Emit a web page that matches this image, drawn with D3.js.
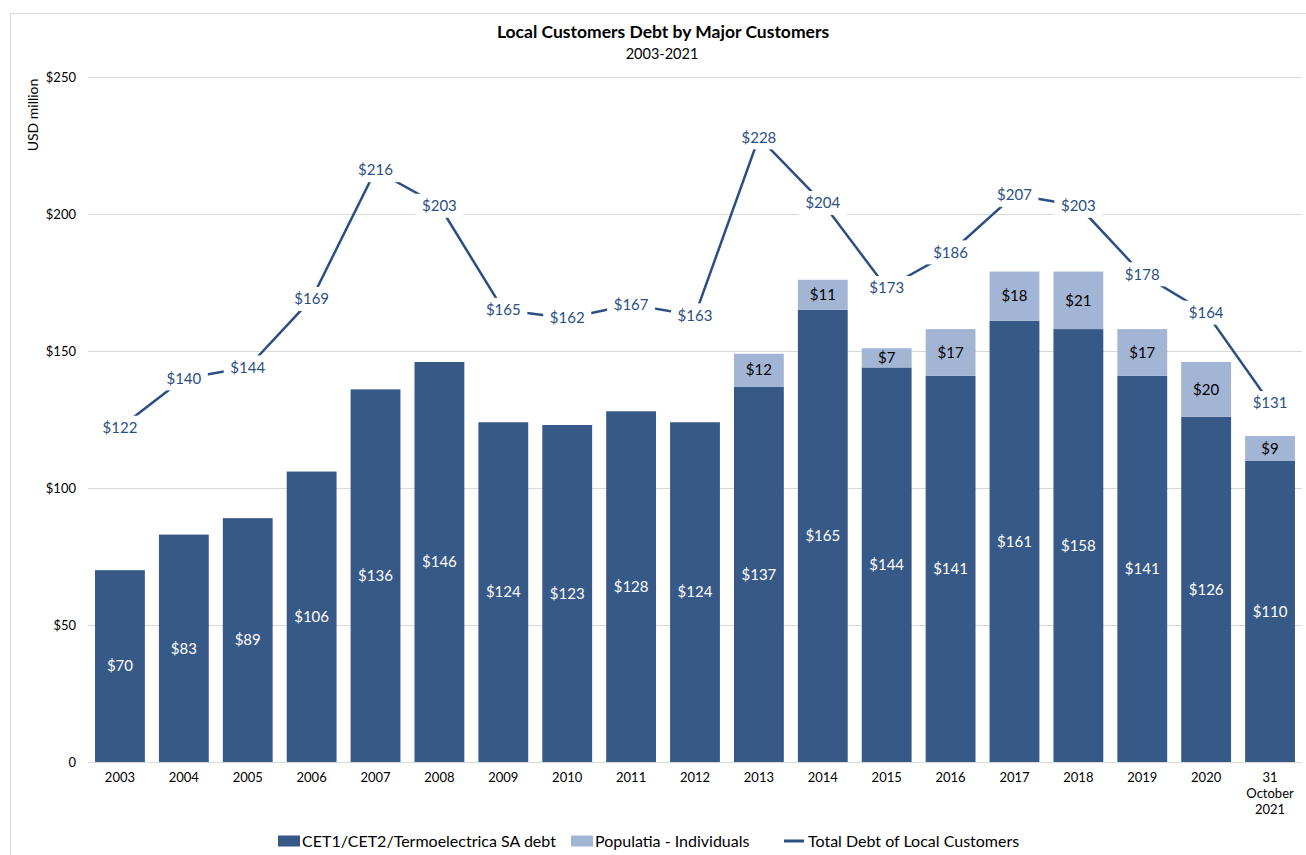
<!DOCTYPE html>
<html lang="en">
<head>
<meta charset="utf-8">
<title>Local Customers Debt by Major Customers</title>
<script src="https://d3js.org/d3.v7.min.js"></script>
<style>
    * { margin: 0; padding: 0; }
    body { background: white; width: 1306px; height: 855px; overflow: hidden; }
    svg { font-family: "Lato", "Open Sans", sans-serif; }
</style>
</head>
<body>
<svg id="chart" width="1306" height="855"></svg>
<script>
const categories = ["2003", "2004", "2005", "2006", "2007", "2008", "2009", "2010", "2011", "2012",
    "2013", "2014", "2015", "2016", "2017", "2018", "2019", "2020", "31\nOctober\n2021"];
const cetDebt = [70, 83, 89, 106, 136, 146, 124, 123, 128, 124, 137, 165, 144, 141, 161, 158, 141, 126, 110];
const populatia = [0, 0, 0, 0, 0, 0, 0, 0, 0, 0, 12, 11, 7, 17, 18, 21, 17, 20, 9];
const totalDebt = [122, 140, 144, 169, 216, 203, 165, 162, 167, 163, 228, 204, 173, 186, 207, 203, 178, 164, 131];
const yTicks = [0, 50, 100, 150, 200, 250];

const darkBlue = "#365987";
const lightBlue = "#a3b5d5";
const lineBlue = "#2b4f82";

const svg = d3.select("#chart");
const plotLeft = 88, plotRight = 1302, plotTop = 77, plotBottom = 762;

// outer frame
svg.append("rect")
    .attr("x", 10.5).attr("y", 13.5)
    .attr("width", 1300).attr("height", 850)
    .attr("fill", "none").attr("stroke", "#d9d9d9");

const x = d3.scaleBand().domain(categories).range([plotLeft, plotRight]).paddingInner(0.22).paddingOuter(0.11);
const y = d3.scaleLinear().domain([0, 250]).range([plotBottom, plotTop]);

// gridlines
svg.append("g").selectAll("line")
    .data(yTicks)
    .join("line")
    .attr("x1", plotLeft).attr("x2", plotRight)
    .attr("y1", d => y(d) + 0.5).attr("y2", d => y(d) + 0.5)
    .attr("stroke", "#d9d9d9").attr("stroke-width", 1);

// y axis labels
const yAxis = d3.axisLeft(y).tickValues(yTicks).tickSize(0).tickPadding(12)
    .tickFormat(d => d === 0 ? "0" : "$" + d);
const yg = svg.append("g").attr("transform", `translate(${plotLeft},0)`).call(yAxis);
yg.select(".domain").remove();
yg.selectAll("text").attr("font-size", 13).attr("fill", "#000").attr("font-family", "Lato, sans-serif");

svg.append("text")
    .attr("transform", "translate(38,115) rotate(-90)")
    .attr("text-anchor", "middle")
    .attr("font-size", 14)
    .text("USD million");

// bars
const stacked = categories.map((c, i) => ({ c, dark: cetDebt[i], light: populatia[i] }));

svg.append("g").selectAll("rect")
    .data(stacked)
    .join("rect")
    .attr("x", d => x(d.c))
    .attr("width", x.bandwidth())
    .attr("y", d => y(d.dark))
    .attr("height", d => y(0) - y(d.dark))
    .attr("fill", darkBlue);

svg.append("g").selectAll("rect")
    .data(stacked.filter(d => d.light > 0))
    .join("rect")
    .attr("x", d => x(d.c))
    .attr("width", x.bandwidth())
    .attr("y", d => y(d.dark + d.light))
    .attr("height", d => y(d.dark) - y(d.dark + d.light))
    .attr("fill", lightBlue);

// axis baseline
svg.append("line")
    .attr("x1", plotLeft).attr("x2", plotRight)
    .attr("y1", plotBottom + 0.5).attr("y2", plotBottom + 0.5)
    .attr("stroke", "#d9d9d9");

// bar labels
svg.append("g").selectAll("text")
    .data(stacked)
    .join("text")
    .attr("x", d => x(d.c) + x.bandwidth() / 2)
    .attr("y", d => y(d.dark / 2))
    .attr("dy", "0.35em")
    .attr("text-anchor", "middle")
    .attr("font-size", 15)
    .attr("fill", "white")
    .text(d => "$" + d.dark);

svg.append("g").selectAll("text")
    .data(stacked.filter(d => d.light > 0))
    .join("text")
    .attr("x", d => x(d.c) + x.bandwidth() / 2)
    .attr("y", d => y(d.dark + d.light / 2))
    .attr("dy", "0.35em")
    .attr("text-anchor", "middle")
    .attr("font-size", 15)
    .attr("fill", "#000")
    .text(d => "$" + d.light);

// x labels
const xl = svg.append("g").selectAll("text")
    .data(categories)
    .join("text")
    .attr("x", d => x(d) + x.bandwidth() / 2)
    .attr("y", 782)
    .attr("text-anchor", "middle")
    .attr("font-size", 13);
xl.each(function (d) {
    const lines = d.split("\n");
    const t = d3.select(this);
    lines.forEach((l, i) => {
        t.append("tspan").attr("x", t.attr("x")).attr("dy", i === 0 ? 0 : 16).text(l);
    });
});

// total line
const cx = i => x(categories[i]) + x.bandwidth() / 2;
const line = d3.line().x((d, i) => cx(i)).y(d => y(d));
svg.append("path")
    .datum(totalDebt)
    .attr("d", line)
    .attr("fill", "none")
    .attr("stroke", lineBlue)
    .attr("stroke-width", 2.5);

// total labels with white background
const tl = svg.append("g").selectAll("g")
    .data(totalDebt)
    .join("g")
    .attr("transform", (d, i) => `translate(${cx(i)},${y(d)})`);
tl.append("rect")
    .attr("x", -24).attr("y", -12)
    .attr("width", 48).attr("height", 24)
    .attr("fill", "white");
tl.append("text")
    .attr("text-anchor", "middle")
    .attr("dy", "0.35em")
    .attr("font-size", 15)
    .attr("fill", lineBlue)
    .text(d => "$" + d);

// title
svg.append("text")
    .attr("x", 663).attr("y", 38)
    .attr("text-anchor", "middle")
    .attr("font-size", 17.5).attr("font-weight", "bold")
    .text("Local Customers Debt by Major Customers");
svg.append("text")
    .attr("x", 662).attr("y", 59)
    .attr("text-anchor", "middle")
    .attr("font-size", 14.5)
    .text("2003-2021");

// legend
const legend = [
    { label: "CET1/CET2/Termoelectrica SA debt", color: darkBlue, type: "rect", x: 278 },
    { label: "Populatia - Individuals", color: lightBlue, type: "rect", x: 571 },
    { label: "Total Debt of Local Customers", color: lineBlue, type: "line", x: 784 }
];
const lg = svg.append("g").selectAll("g")
    .data(legend)
    .join("g")
    .attr("transform", d => `translate(${d.x},841)`);
lg.filter(d => d.type === "rect").append("rect")
    .attr("x", 0).attr("y", -5.5).attr("width", 22).attr("height", 11)
    .attr("fill", d => d.color);
lg.filter(d => d.type === "line").append("line")
    .attr("x1", 0).attr("x2", 20).attr("y1", 0).attr("y2", 0)
    .attr("stroke", d => d.color).attr("stroke-width", 3);
lg.append("text")
    .attr("x", 24)
    .attr("dy", "0.35em")
    .attr("font-size", 16)
    .text(d => d.label);
</script>
</body>
</html>
